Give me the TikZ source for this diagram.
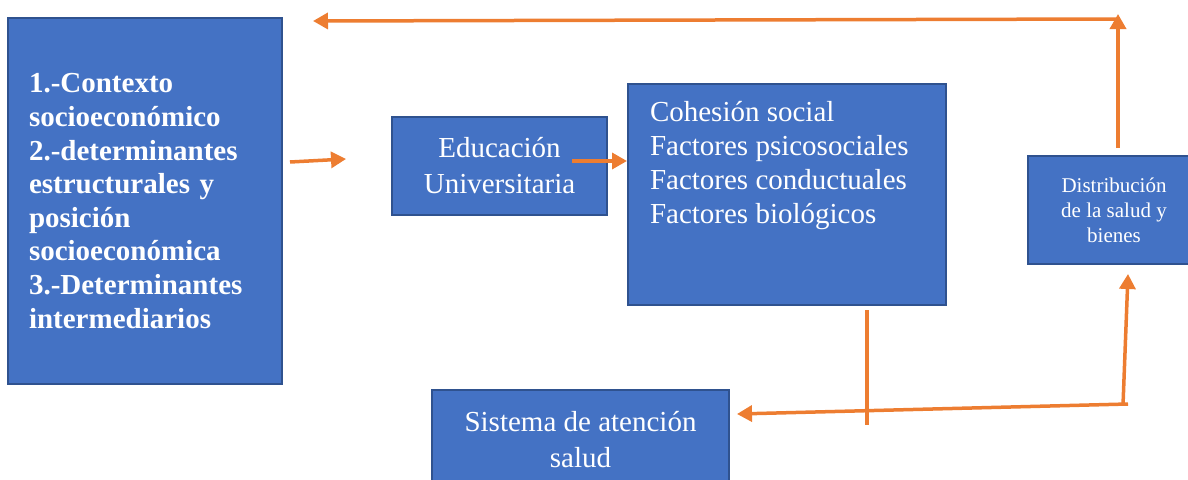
\documentclass[tikz,border=0pt]{standalone}
\usepackage{fontspec}
\setmainfont{Liberation Serif}
\usepackage{xcolor}
\usetikzlibrary{arrows.meta}

\definecolor{azul}{HTML}{4472C4}
\definecolor{borde}{HTML}{2F528F}
\definecolor{naranja}{HTML}{ED7D31}

\begin{document}
\begin{tikzpicture}[x=1pt, y=-1pt,
  caja/.style = {shape=rectangle, draw=borde, line width=2pt, fill=azul, text=white, inner sep=0pt},
  flecha/.style = {draw=naranja, line width=3.5pt, -{Triangle[length=15pt, width=16pt]}},
  linea/.style = {draw=naranja, line width=3.5pt}]
\useasboundingbox (0,0) rectangle (1188,479);
\clip (0,0) rectangle (1188,479);

\node[caja, anchor=north west, minimum width=274pt, minimum height=366pt, text width=232pt, align=left,
  font=\bfseries\fontsize{29}{33.6}\selectfont] (contexto) at (7,17)
  {1.-Contexto\\ socioeconómico\\ 2.-determinantes\\ estructurales y\\ posición\\ socioeconómica\\ 3.-Determinantes\\ intermediarios};
\node[caja, minimum width=215pt, minimum height=98pt, align=center, font=\fontsize{29}{36}\selectfont] (educacion) at (499.5,166)
  {Educación\\ Universitaria};
\node[caja, anchor=north west, minimum width=318pt, minimum height=221pt, font=\fontsize{29}{34}\selectfont] (cohesion) at (627,83)
  {\parbox[c][221pt][t]{274pt}{\raggedright\rule{0pt}{37pt}Cohesión social\\ Factores psicosociales\\ Factores conductuales\\ Factores biológicos}};
\node[caja, anchor=north west, minimum width=172pt, minimum height=108pt, align=center, font=\fontsize{21}{25}\selectfont] (distribucion) at (1027,155)
  {Distribución\\ de la salud y\\ bienes};
\node[caja, anchor=north west, minimum width=297pt, minimum height=100pt, align=center, font=\fontsize{29}{36}\selectfont] (sistema) at (431,389)
  {Sistema de atención\\ salud};

% flechas
\coordinate (salida) at (290,162);
\coordinate (entrada) at (346,159);
\coordinate (edu) at (572,161);
\coordinate (arriba) at (1117,19);
\coordinate (izquierda) at (313,21);
\coordinate (abajo) at (1128,404);
\coordinate (base) at (1123,405);

\draw[flecha] (salida) -- (entrada);
\draw[flecha] (edu) -- (edu -| cohesion.west);
\draw[flecha] ([xshift=4pt, yshift=7pt]distribucion.north) -- ++(0,-134);
\draw[flecha] (arriba) -- (izquierda);
\draw[linea] ([xshift=80pt, yshift=-4pt]cohesion.south) -- ++(0,115);
\draw[flecha] (abajo) -- ([xshift=7pt]sistema.east |- 0,414);
\draw[flecha] (base) -- ([xshift=14pt, yshift=-9pt]distribucion.south);
\end{tikzpicture}
\end{document}
